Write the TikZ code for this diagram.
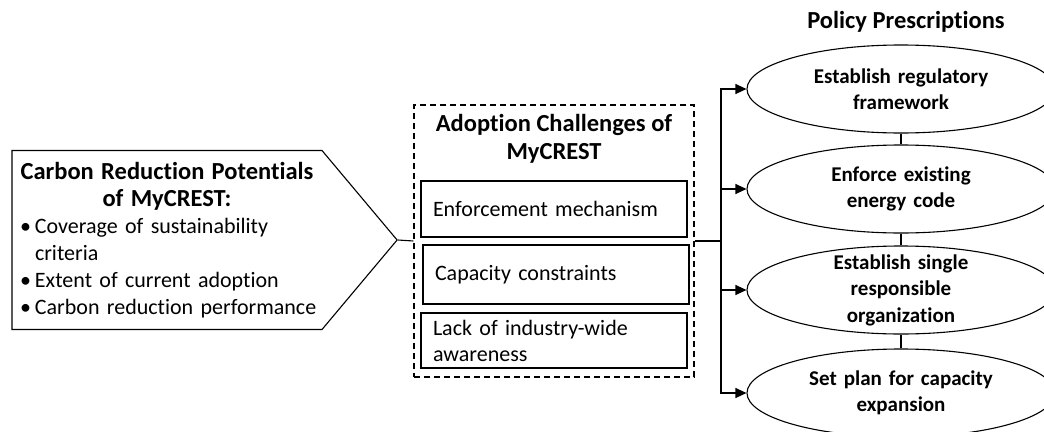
\documentclass[tikz,border=0pt]{standalone}
\usepackage{fontspec}
\setmainfont{Carlito}[Ligatures=NoCommon]
\usetikzlibrary{shapes.geometric,shapes.symbols,arrows.meta}
\newcommand{\dotitem}{\makebox[18pt][l]{\hspace{3pt}\textbullet}}

\begin{document}
\begin{tikzpicture}[x=1pt,y=-1pt,line width=1.1pt,
  font=\fontsize{22}{26}\selectfont,
  challenge/.style={draw,line width=1.4pt,minimum width=266pt,minimum height=56pt,
    text width=242pt,inner xsep=12pt,inner ysep=0pt,align=left},
  policy/.style={draw,ellipse,line width=1.1pt,minimum width=308pt,minimum height=88pt,
    text width=200pt,inner xsep=0pt,inner ysep=-20pt,align=center,
    font=\fontsize{21}{26.5}\selectfont\bfseries},
  heading/.style={font=\fontsize{24.5}{28}\selectfont\bfseries,align=center},
  link/.style={-{Triangle[length=11pt,width=10pt]}}]
\useasboundingbox (0,0) rectangle (1044,431);
\clip (0,0) rectangle (1044,431);

\node[signal,signal to=east,signal pointer angle=100,draw,minimum height=179pt,
  text width=300pt,inner xsep=5pt,font=\fontsize{22}{27}\selectfont] (pot) at (167,240) {%
  {\centering\fontsize{24.5}{27}\selectfont\bfseries Carbon Reduction Potentials\\ of MyCREST:\par}
  \raggedright
  \dotitem Coverage of sustainability\\
  \hspace*{18pt}criteria\\
  \dotitem Extent of current adoption\\
  \dotitem Carbon reduction performance};

\node[draw,dashed,dash pattern=on 6pt off 4pt,minimum width=280pt,minimum height=272pt] (chal) at (554,241) {};
\node[heading] (chaltitle) at (554,139) {Adoption Challenges of\\MyCREST};
\node[challenge] (enf) at (554,209) {Enforcement mechanism};
\node[challenge,minimum height=59pt] (cap) at (556,274.5) {Capacity constraints};
\node[challenge,minimum height=55pt] (aware) at (554,340.5) {Lack of industry-wide\\awareness};

\node[heading] (ptitle) at (906,22) {Policy Prescriptions};
\node[policy] (p1) at (901,89) {Establish regulatory\\framework};
\node[policy] (p2) at (901,189) {Enforce existing\\energy code};
\node[policy] (p3) at (901,290) {Establish single\\responsible\\organization};
\node[policy] (p4) at (901,393) {Set plan for capacity\\expansion};

\coordinate (jn) at (721,241);
\draw (pot.east) -- (chal.west);
\draw (chal.east) -- (jn);
\foreach \p in {p1,p2,p3,p4} \draw[link] (jn) |- (\p.west);
\foreach \a/\b in {p1/p2,p2/p3,p3/p4} \draw (\a.south) -- (\b.north);
\end{tikzpicture}
\end{document}
